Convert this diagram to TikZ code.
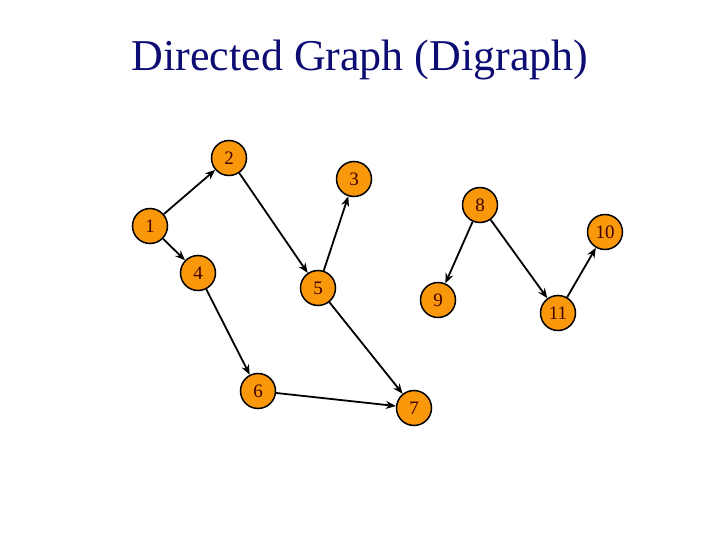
\documentclass[tikz,border=0pt]{standalone}
\usepackage{fontspec}
\setmainfont{Liberation Serif}
\usetikzlibrary{arrows.meta}

\definecolor{vtxorange}{RGB}{250,152,12}
\definecolor{titleblue}{RGB}{12,12,115}

\begin{document}
\begin{tikzpicture}[x=1pt, y=-1pt,
    vertex/.style={circle, draw=black, fill=vtxorange, line width=1.5pt, minimum size=35pt, inner sep=0pt, font=\fontsize{19}{19}\selectfont, text=black!75!red},
    edge/.style={-{Stealth[length=10pt, width=8pt]}, line width=1.8pt}]

        % Page frame
        \useasboundingbox (0, 0) rectangle (720, 540);

        % Title
        \node[text=titleblue, font=\fontsize{44}{44}\selectfont] (title) at (360, 60) {Directed Graph (Digraph)};

        % Vertices
        \node[vertex] (v1) at (150, 226) {1};
        \node[vertex] (v2) at (229, 158) {2};
        \node[vertex] (v3) at (354, 179) {3};
        \node[vertex] (v4) at (198, 273) {4};
        \node[vertex] (v5) at (318, 288) {5};
        \node[vertex] (v6) at (258, 391) {6};
        \node[vertex] (v7) at (414, 408) {7};
        \node[vertex] (v8) at (480, 205) {8};
        \node[vertex] (v9) at (438, 300) {9};
        \node[vertex] (v10) at (605, 232) {10};
        \node[vertex] (v11) at (558, 313) {11};

        % Directed edges
        \foreach \a/\b in {1/2, 2/5, 5/3, 1/4, 4/6, 6/7, 5/7, 8/9, 8/11, 11/10} {
          \draw[edge] (v\a) -- (v\b);
        }

      \end{tikzpicture}
\end{document}
